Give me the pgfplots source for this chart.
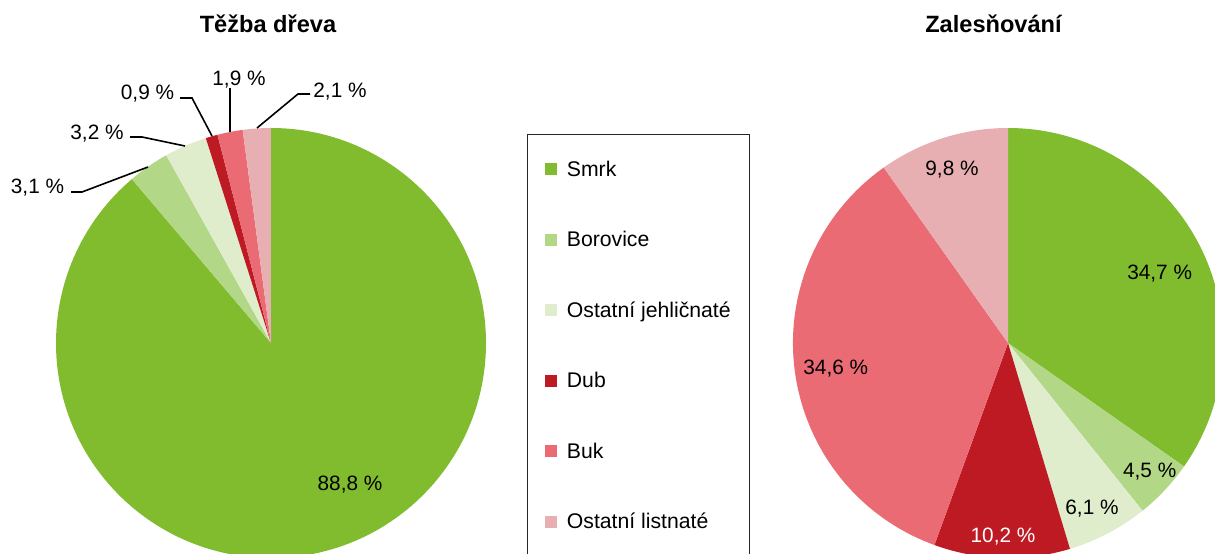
\documentclass[border=0pt]{standalone}
\usepackage{pgfplots}
\pgfplotsset{compat=1.18}
\usepackage{fontspec}
\setmainfont{Liberation Sans}
\definecolor{csmrk}{HTML}{80BC2E}
\definecolor{cbor}{HTML}{B2D786}
\definecolor{cojeh}{HTML}{DFEDCD}
\definecolor{cdub}{HTML}{BE1A24}
\definecolor{cbuk}{HTML}{EA6B73}
\definecolor{colis}{HTML}{E8AFB3}
\newcommand\pie[4]{%
  \xdef\angA{90}%
  \foreach \p/\c in {#4} {%
    \pgfmathsetmacro\angB{\angA-(\p/#3)*360}%
    \fill[\c] (axis cs:#1,#2) -- ++(\angA:107.5pt) arc[start angle=\angA, end angle=\angB, radius=107.5pt] -- cycle;
    \xdef\angA{\angB}%
  }%
}
\tikzset{
  lbl/.style={font=\fontsize{10.4}{12}\selectfont, anchor=base, inner sep=0pt},
  ttl/.style={font=\fontsize{11.8}{14}\selectfont\bfseries, anchor=base, inner sep=0pt},
  leg/.style={font=\fontsize{10.6}{12}\selectfont, anchor=base west, inner sep=0pt},
  ldr/.style={line width=0.8pt, black}}
\begin{document}
\begin{tikzpicture}
\begin{axis}[name=ax, width=607.5pt, height=276.5pt, scale only axis,
  xmin=0, xmax=1215, ymin=0, ymax=553, hide axis, clip=true]
\pgfplotsextra{%
  \pie{271}{210}{100}{88.8/csmrk,3.1/cbor,3.2/cojeh,0.9/cdub,1.9/cbuk,2.1/colis}%
  \pie{1008}{210}{99.9}{34.7/csmrk,4.5/cbor,6.1/cojeh,10.2/cdub,34.6/cbuk,9.8/colis}%
}
% legend markers
\addplot[only marks, mark=square*, mark size=2.75pt, color=csmrk] coordinates {(550.5,384)};
\addplot[only marks, mark=square*, mark size=2.75pt, color=cbor] coordinates {(550.5,313.5)};
\addplot[only marks, mark=square*, mark size=2.75pt, color=cojeh] coordinates {(550.5,243)};
\addplot[only marks, mark=square*, mark size=2.75pt, color=cdub] coordinates {(550.5,172.5)};
\addplot[only marks, mark=square*, mark size=2.75pt, color=cbuk] coordinates {(550.5,102)};
\addplot[only marks, mark=square*, mark size=2.75pt, color=colis] coordinates {(550.5,31.5)};
\draw[line width=0.5pt, black!85] (axis cs:527,419) rectangle (axis cs:749,-20);
\node[leg] at (axis cs:566.5,377) {Smrk};
\node[leg] at (axis cs:566.5,306.5) {Borovice};
\node[leg] at (axis cs:566.5,236) {Ostatní jehličnaté};
\node[leg] at (axis cs:566.5,165.5) {Dub};
\node[leg] at (axis cs:566.5,95) {Buk};
\node[leg] at (axis cs:566.5,24.5) {Ostatní listnaté};
% titles
\node[ttl] at (axis cs:268,520) {Těžba dřeva};
\node[ttl] at (axis cs:993.5,520) {Zalesňování};
% left pie labels
\node[lbl] at (axis cs:350,62.7) {88,8 \%};
\node[lbl] at (axis cs:37.5,359.7) {3,1 \%};
\node[lbl] at (axis cs:97,413.7) {3,2 \%};
\node[lbl] at (axis cs:147.5,453.7) {0,9 \%};
\node[lbl] at (axis cs:239,467.7) {1,9 \%};
\node[lbl] at (axis cs:340,455.7) {2,1 \%};
\draw[ldr] (axis cs:71,361) -- (axis cs:82,361) -- (axis cs:148,386);
\draw[ldr] (axis cs:130,416) -- (axis cs:142,416) -- (axis cs:185,407);
\draw[ldr] (axis cs:180,455) -- (axis cs:192,455) -- (axis cs:212,417);
\draw[ldr] (axis cs:230,465) -- (axis cs:230,421);
\draw[ldr] (axis cs:310,459) -- (axis cs:298,459) -- (axis cs:257,425);
% right pie labels
\node[lbl] at (axis cs:1159.7,274) {34,7 \%};
\node[lbl] at (axis cs:1149.7,75.7) {4,5 \%};
\node[lbl] at (axis cs:1092,38.7) {6,1 \%};
\node[lbl, text=white] at (axis cs:1003,10.7) {10,2 \%};
\node[lbl] at (axis cs:835.8,179) {34,6 \%};
\node[lbl] at (axis cs:952,377.7) {9,8 \%};
\end{axis}
\pgfresetboundingbox
\path[use as bounding box] (ax.south west) rectangle (ax.north east);
\end{tikzpicture}
\end{document}
